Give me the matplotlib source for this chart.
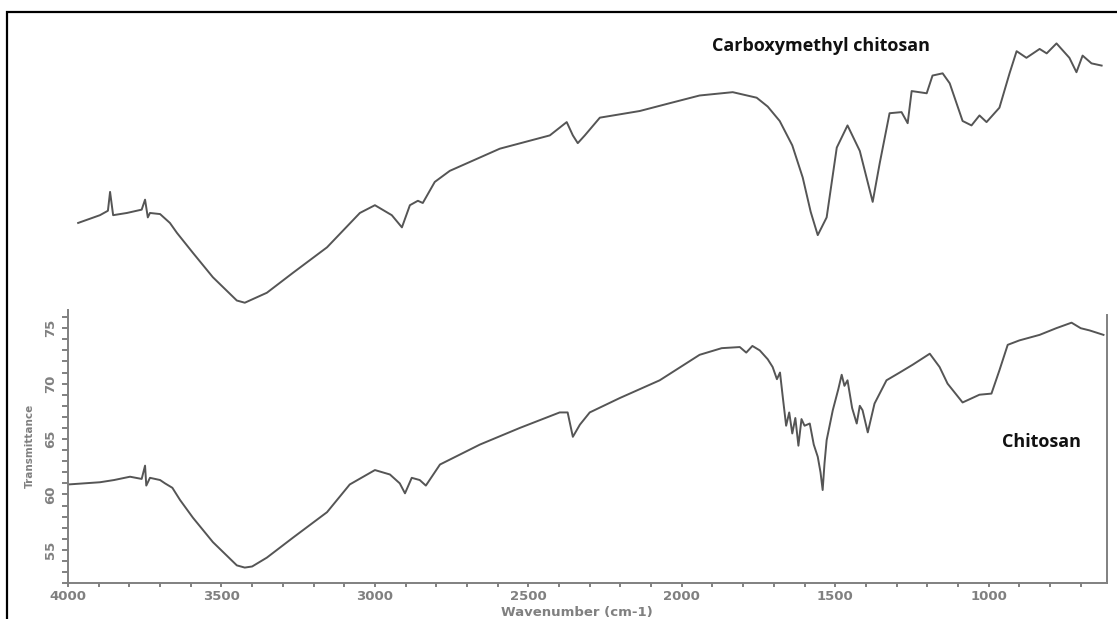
import matplotlib.pyplot as plt
from matplotlib.patches import Rectangle
from matplotlib.ticker import MultipleLocator

# chitosan spectrum (wavenumber, transmittance)
chi_wn = [4000, 3896, 3850, 3798, 3760, 3749, 3745, 3733, 3700, 3684, 3660, 3635,
          3593, 3528, 3450, 3424, 3400, 3352, 3267, 3156, 3082, 3000, 2951, 2919,
          2902, 2880, 2854, 2834, 2788, 2658, 2528, 2398, 2372, 2355, 2332, 2300,
          2202, 2072, 1942, 1870, 1811, 1790, 1770, 1746, 1720, 1704, 1690, 1680,
          1671, 1660, 1650, 1640, 1630, 1620, 1610, 1600, 1583, 1570, 1557, 1548,
          1541, 1535, 1528, 1508, 1490, 1479, 1470, 1460, 1445, 1430, 1420, 1411,
          1394, 1372, 1333, 1290, 1248, 1192, 1160, 1134, 1085, 1030, 991, 965,
          938, 900, 834, 780, 730, 700, 671, 626]
chi_t = [60.9, 61.1, 61.3, 61.6, 61.4, 62.6, 60.8, 61.5, 61.3, 61.0, 60.6, 59.5,
         57.9, 55.7, 53.6, 53.4, 53.5, 54.3, 56.1, 58.4, 60.9, 62.2, 61.8, 61.0,
         60.1, 61.5, 61.3, 60.8, 62.7, 64.5, 66.0, 67.4, 67.4, 65.2, 66.3, 67.4,
         68.7, 70.3, 72.6, 73.2, 73.3, 72.8, 73.4, 73.0, 72.2, 71.5, 70.4, 71.0,
         68.8, 66.2, 67.4, 65.5, 66.9, 64.4, 66.8, 66.2, 66.4, 64.5, 63.4, 62.0,
         60.4, 62.8, 64.9, 67.6, 69.5, 70.8, 69.8, 70.3, 67.8, 66.4, 68.0, 67.6,
         65.6, 68.2, 70.3, 71.0, 71.7, 72.7, 71.5, 70.0, 68.3, 69.0, 69.1, 71.2,
         73.5, 73.9, 74.4, 75.0, 75.5, 75.0, 74.8, 74.4]

# carboxymethyl chitosan spectrum, drawn offset above on the same scale
cmc_wn = [3967, 3896, 3870, 3863, 3853, 3808, 3760, 3749, 3740, 3733, 3700, 3668,
          3645, 3593, 3528, 3450, 3424, 3352, 3267, 3156, 3049, 3000, 2945, 2912,
          2886, 2860, 2844, 2805, 2756, 2593, 2430, 2375, 2355, 2339, 2316, 2267,
          2137, 2040, 1942, 1834, 1756, 1720, 1681, 1640, 1606, 1580, 1557, 1528,
          1495, 1460, 1420, 1378, 1355, 1323, 1284, 1264, 1251, 1202, 1183, 1150,
          1127, 1085, 1056, 1030, 1007, 965, 932, 909, 877, 834, 811, 779,
          737, 714, 694, 665, 632]
cmc_t = [84.5, 85.2, 85.6, 87.3, 85.2, 85.4, 85.7, 86.6, 85.0, 85.4, 85.3, 84.5,
         83.6, 81.8, 79.6, 77.5, 77.3, 78.2, 80.0, 82.3, 85.4, 86.1, 85.2, 84.1,
         86.1, 86.5, 86.3, 88.2, 89.2, 91.2, 92.4, 93.6, 92.4, 91.7, 92.4, 94.0,
         94.6, 95.3, 96.0, 96.3, 95.8, 95.0, 93.7, 91.5, 88.6, 85.5, 83.4, 85.0,
         91.3, 93.3, 91.0, 86.4, 89.9, 94.4, 94.5, 93.5, 96.4, 96.2, 97.8, 98.0,
         97.1, 93.7, 93.3, 94.2, 93.6, 94.9, 98.0, 100.0, 99.4, 100.2, 99.8, 100.7,
         99.4, 98.1, 99.6, 98.9, 98.7]

yticks = [55, 60, 65, 70, 75]
xticks = [4000, 3500, 3000, 2500, 2000, 1500, 1000]
grey = "#808080"

fig = plt.figure(figsize=(11.17, 6.19), dpi=100)
ax = fig.add_axes([0.0609, 0.058, 0.93, 0.922])

ax.plot(chi_wn, chi_t, color="#555555", lw=1.4)
ax.plot(cmc_wn, cmc_t, color="#555555", lw=1.4)

ax.set_xlim(4000, 615)
ax.set_ylim(52.0, 103.5)

ax.spines["top"].set_visible(False)
ax.spines["left"].set_bounds(52.0, 76.6)
ax.spines["right"].set_bounds(52.0, 76.2)
for s in ["left", "right", "bottom"]:
    ax.spines[s].set_color(grey)
    ax.spines[s].set_linewidth(1.4)

ax.set_xticks(xticks)
ax.xaxis.set_minor_locator(MultipleLocator(100))
ax.set_yticks(yticks)
ax.set_yticks(list(range(52, 77)), minor=True)
ax.tick_params(which="both", direction="out", length=3, width=1.4, color=grey,
               labelsize=9.5, labelcolor=grey)
ax.tick_params(axis="y", which="both", length=4, labelrotation=90, pad=4)
ax.tick_params(axis="x", which="both", pad=2)
for lbl in ax.get_xticklabels() + ax.get_yticklabels():
    lbl.set_fontweight("bold")
for lbl in ax.get_yticklabels():
    lbl.set_va("center")

ax.set_xlabel("Wavenumber (cm-1)", fontsize=9.5, color=grey, fontweight="bold")
ax.xaxis.set_label_coords(0.49, -0.04)
ax.set_ylabel("Transmittance", fontsize=7.5, color=grey, fontweight="bold")
ax.yaxis.set_label_coords(-0.032, 0.24)

ax.text(1903, 100.5, "Carboxymethyl chitosan", fontsize=13, fontweight="bold",
        va="center", ha="left", family="Open Sans", color="#111111")
ax.text(955, 64.7, "Chitosan", fontsize=13, fontweight="bold",
        va="center", ha="left", family="Open Sans", color="#111111")

# outer frame (open at the right and bottom as in the scan)
fig.add_artist(Rectangle((0.0063, -0.05), 1.2, 0.9806 + 0.05, transform=fig.transFigure,
                         fill=False, lw=1.6, color="black", clip_on=False))

fig.savefig("out.png", dpi=100)
